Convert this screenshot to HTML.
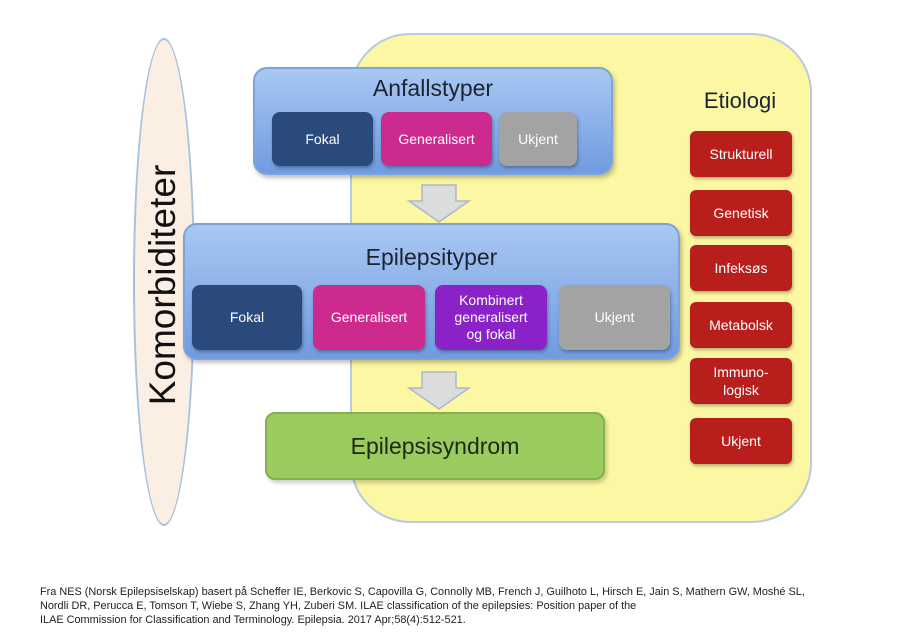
<!DOCTYPE html>
<html><head><meta charset="utf-8"><style>
body{margin:0;width:908px;height:634px;background:#fff;position:relative;overflow:hidden;font-family:"Liberation Sans",sans-serif}
.a{position:absolute;box-sizing:border-box}
.yel{left:350px;top:33px;width:462px;height:490px;background:#fbf7a2;border:2px solid #b9c9e0;border-radius:60px}
.ell{left:133px;top:38px;width:62px;height:488px;border-radius:50%;background:#fbeee2;border:2px solid #a9c0de}
.blue{background:linear-gradient(#a9c8f2,#6f9be0);border:2px solid #7ea3d8;border-radius:14px;box-shadow:2px 3px 4px rgba(0,0,0,.25)}
.t{color:#1c2431;text-align:center;font-size:23px}
.sb{border-radius:8px;color:#fff;display:flex;align-items:center;justify-content:center;text-align:center;font-size:14px;box-shadow:1px 2px 3px rgba(0,0,0,.3);line-height:17px}
.red{left:690px;width:102px;height:46px;background:#b81f1c;border-radius:6px;color:#fff;display:flex;align-items:center;justify-content:center;text-align:center;font-size:14px;box-shadow:1px 2px 3px rgba(0,0,0,.3);line-height:18px}
.foot{left:40px;font-size:10.9px;color:#222;white-space:nowrap}
</style></head><body>
<div class="a yel"></div>
<div class="a ell"></div>
<div class="a" style="left:163px;top:285px;transform:translate(-50%,-50%) rotate(-90deg);font-size:37px;color:#111;white-space:nowrap">Komorbiditeter</div>

<div class="a blue" style="left:253px;top:67px;width:360px;height:108px"></div>
<div class="a t" style="left:253px;top:75px;width:360px">Anfallstyper</div>
<div class="a sb" style="left:272px;top:112px;width:101px;height:54px;background:#2a4a7c">Fokal</div>
<div class="a sb" style="left:381px;top:112px;width:111px;height:54px;background:#cc2a8f">Generalisert</div>
<div class="a sb" style="left:499px;top:112px;width:78px;height:54px;background:#a3a3a3">Ukjent</div>

<svg class="a" style="left:405px;top:184px" width="68" height="40"><polygon points="17,1 51,1 51,17 64,17 34,38 4,17 17,17" fill="#dcdcdc" stroke="#a9b8c8" stroke-width="1.5"/></svg>

<div class="a blue" style="left:183px;top:223px;width:497px;height:137px"></div>
<div class="a t" style="left:183px;top:244px;width:497px">Epilepsityper</div>
<div class="a sb" style="left:192px;top:285px;width:110px;height:65px;background:#2a4a7c">Fokal</div>
<div class="a sb" style="left:313px;top:285px;width:112px;height:65px;background:#cc2a8f">Generalisert</div>
<div class="a sb" style="left:435px;top:285px;width:112px;height:65px;background:#8a22c8">Kombinert<br>generalisert<br>og fokal</div>
<div class="a sb" style="left:559px;top:285px;width:111px;height:65px;background:#a3a3a3">Ukjent</div>

<svg class="a" style="left:405px;top:371px" width="68" height="40"><polygon points="17,1 51,1 51,17 64,17 34,38 4,17 17,17" fill="#dcdcdc" stroke="#a9b8c8" stroke-width="1.5"/></svg>

<div class="a" style="left:265px;top:412px;width:340px;height:68px;background:#9bcb5e;border:2px solid #86b04e;border-radius:10px;box-shadow:2px 3px 4px rgba(0,0,0,.2);display:flex;align-items:center;justify-content:center;font-size:23px;color:#1c2a10">Epilepsisyndrom</div>

<div class="a" style="left:690px;top:88px;width:100px;text-align:center;font-size:22px;color:#1c2431">Etiologi</div>
<div class="a red" style="top:131px">Strukturell</div>
<div class="a red" style="top:190px">Genetisk</div>
<div class="a red" style="top:245px">Infeksøs</div>
<div class="a red" style="top:302px">Metabolsk</div>
<div class="a red" style="top:358px">Immuno-<br>logisk</div>
<div class="a red" style="top:418px">Ukjent</div>

<div class="a foot" style="top:586px">Fra NES (Norsk Epilepsiselskap) basert på Scheffer IE, Berkovic S, Capovilla G, Connolly MB, French J, Guilhoto L, Hirsch E, Jain S, Mathern GW, Moshé SL,</div>
<div class="a foot" style="top:600px">Nordli DR, Perucca E, Tomson T, Wiebe S,  Zhang YH, Zuberi SM. ILAE classification of the epilepsies: Position paper of the</div>
<div class="a foot" style="top:614px">ILAE Commission for Classification and Terminology. Epilepsia. 2017 Apr;58(4):512-521.</div>
</body></html>
